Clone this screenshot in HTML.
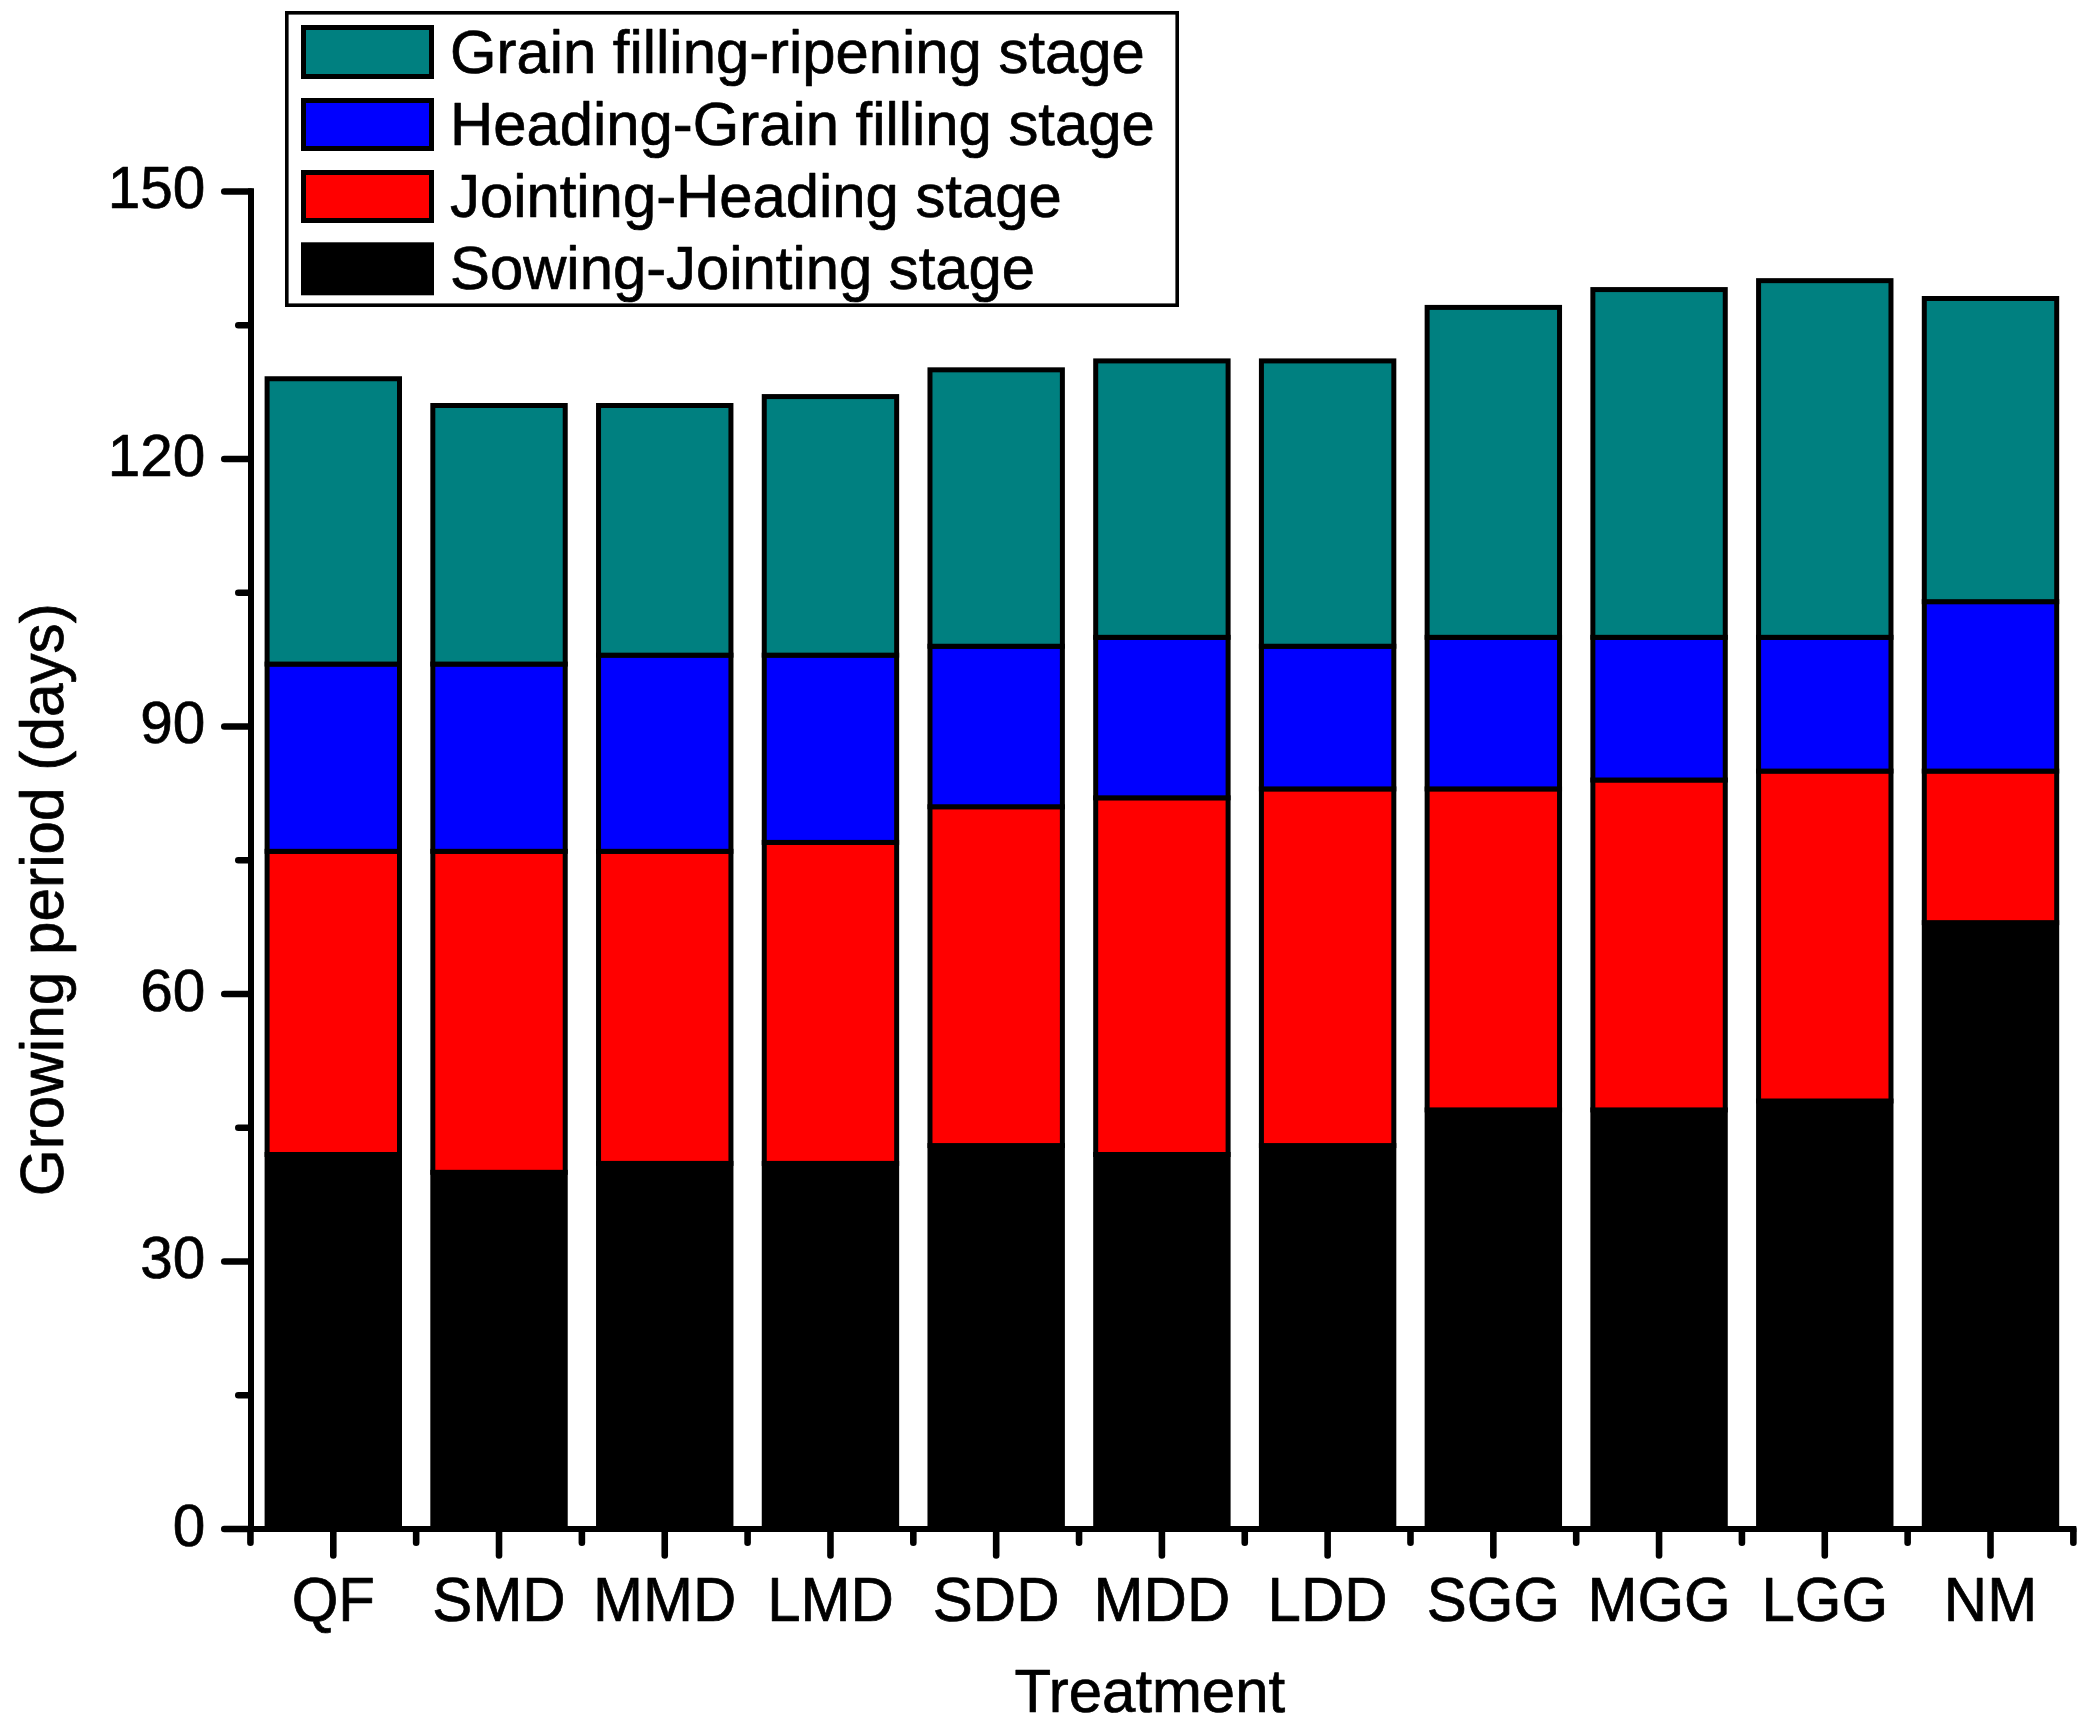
<!DOCTYPE html>
<html lang="en"><head><meta charset="utf-8"><title>Growing period by treatment</title>
<style>html,body{margin:0;padding:0;background:#fff}svg{display:block}text{font-family:"Liberation Sans",Arial,Helvetica,sans-serif;fill:#000;stroke:#000;stroke-width:0.7px;stroke-linejoin:round}</style>
</head><body>
<svg width="2088" height="1731" viewBox="0 0 2088 1731">
<rect x="0" y="0" width="2088" height="1731" fill="#ffffff"/>
<g stroke="#000" stroke-width="5" stroke-linejoin="miter">
<rect x="267.10" y="1154.50" width="132.40" height="374.50" fill="#000000"/>
<rect x="267.10" y="851.33" width="132.40" height="303.17" fill="#ff0000"/>
<rect x="267.10" y="664.08" width="132.40" height="187.25" fill="#0000ff"/>
<rect x="267.10" y="378.75" width="132.40" height="285.33" fill="#008080"/>
<rect x="432.82" y="1172.33" width="132.40" height="356.67" fill="#000000"/>
<rect x="432.82" y="851.33" width="132.40" height="321.00" fill="#ff0000"/>
<rect x="432.82" y="664.08" width="132.40" height="187.25" fill="#0000ff"/>
<rect x="432.82" y="405.50" width="132.40" height="258.58" fill="#008080"/>
<rect x="598.54" y="1163.42" width="132.40" height="365.58" fill="#000000"/>
<rect x="598.54" y="851.33" width="132.40" height="312.08" fill="#ff0000"/>
<rect x="598.54" y="655.16" width="132.40" height="196.17" fill="#0000ff"/>
<rect x="598.54" y="405.50" width="132.40" height="249.67" fill="#008080"/>
<rect x="764.26" y="1163.42" width="132.40" height="365.58" fill="#000000"/>
<rect x="764.26" y="842.41" width="132.40" height="321.00" fill="#ff0000"/>
<rect x="764.26" y="655.16" width="132.40" height="187.25" fill="#0000ff"/>
<rect x="764.26" y="396.58" width="132.40" height="258.58" fill="#008080"/>
<rect x="929.98" y="1145.58" width="132.40" height="383.42" fill="#000000"/>
<rect x="929.98" y="806.75" width="132.40" height="338.83" fill="#ff0000"/>
<rect x="929.98" y="646.25" width="132.40" height="160.50" fill="#0000ff"/>
<rect x="929.98" y="369.83" width="132.40" height="276.42" fill="#008080"/>
<rect x="1095.70" y="1154.50" width="132.40" height="374.50" fill="#000000"/>
<rect x="1095.70" y="797.83" width="132.40" height="356.67" fill="#ff0000"/>
<rect x="1095.70" y="637.33" width="132.40" height="160.50" fill="#0000ff"/>
<rect x="1095.70" y="360.91" width="132.40" height="276.42" fill="#008080"/>
<rect x="1261.42" y="1145.58" width="132.40" height="383.42" fill="#000000"/>
<rect x="1261.42" y="788.91" width="132.40" height="356.67" fill="#ff0000"/>
<rect x="1261.42" y="646.25" width="132.40" height="142.67" fill="#0000ff"/>
<rect x="1261.42" y="360.91" width="132.40" height="285.33" fill="#008080"/>
<rect x="1427.14" y="1109.92" width="132.40" height="419.08" fill="#000000"/>
<rect x="1427.14" y="788.91" width="132.40" height="321.00" fill="#ff0000"/>
<rect x="1427.14" y="637.33" width="132.40" height="151.58" fill="#0000ff"/>
<rect x="1427.14" y="307.41" width="132.40" height="329.92" fill="#008080"/>
<rect x="1592.86" y="1109.92" width="132.40" height="419.08" fill="#000000"/>
<rect x="1592.86" y="780.00" width="132.40" height="329.92" fill="#ff0000"/>
<rect x="1592.86" y="637.33" width="132.40" height="142.67" fill="#0000ff"/>
<rect x="1592.86" y="289.58" width="132.40" height="347.75" fill="#008080"/>
<rect x="1758.58" y="1101.00" width="132.40" height="428.00" fill="#000000"/>
<rect x="1758.58" y="771.08" width="132.40" height="329.92" fill="#ff0000"/>
<rect x="1758.58" y="637.33" width="132.40" height="133.75" fill="#0000ff"/>
<rect x="1758.58" y="280.66" width="132.40" height="356.67" fill="#008080"/>
<rect x="1924.30" y="922.66" width="132.40" height="606.34" fill="#000000"/>
<rect x="1924.30" y="771.08" width="132.40" height="151.58" fill="#ff0000"/>
<rect x="1924.30" y="601.66" width="132.40" height="169.42" fill="#0000ff"/>
<rect x="1924.30" y="298.50" width="132.40" height="303.17" fill="#008080"/>
</g>
<g stroke="#000" fill="none">
<line x1="251.0" y1="188.24" x2="251.0" y2="1532.00" stroke-width="6"/>
<line x1="224.2" y1="1529.0" x2="2076.3" y2="1529.0" stroke-width="6"/>
<g stroke-width="6.6" stroke-linecap="round">
<line x1="224.3" y1="1529.00" x2="250.6" y2="1529.00"/>
<line x1="238.3" y1="1395.25" x2="250.6" y2="1395.25"/>
<line x1="224.3" y1="1261.50" x2="250.6" y2="1261.50"/>
<line x1="238.3" y1="1127.75" x2="250.6" y2="1127.75"/>
<line x1="224.3" y1="994.00" x2="250.6" y2="994.00"/>
<line x1="238.3" y1="860.25" x2="250.6" y2="860.25"/>
<line x1="224.3" y1="726.50" x2="250.6" y2="726.50"/>
<line x1="238.3" y1="592.75" x2="250.6" y2="592.75"/>
<line x1="224.3" y1="459.00" x2="250.6" y2="459.00"/>
<line x1="238.3" y1="325.25" x2="250.6" y2="325.25"/>
<line x1="224.3" y1="191.49" x2="250.6" y2="191.49"/>
<line x1="333.30" y1="1529.4" x2="333.30" y2="1555.5"/>
<line x1="499.02" y1="1529.4" x2="499.02" y2="1555.5"/>
<line x1="664.74" y1="1529.4" x2="664.74" y2="1555.5"/>
<line x1="830.46" y1="1529.4" x2="830.46" y2="1555.5"/>
<line x1="996.18" y1="1529.4" x2="996.18" y2="1555.5"/>
<line x1="1161.90" y1="1529.4" x2="1161.90" y2="1555.5"/>
<line x1="1327.62" y1="1529.4" x2="1327.62" y2="1555.5"/>
<line x1="1493.34" y1="1529.4" x2="1493.34" y2="1555.5"/>
<line x1="1659.06" y1="1529.4" x2="1659.06" y2="1555.5"/>
<line x1="1824.78" y1="1529.4" x2="1824.78" y2="1555.5"/>
<line x1="1990.50" y1="1529.4" x2="1990.50" y2="1555.5"/>
<line x1="250.44" y1="1529.4" x2="250.44" y2="1542.7"/>
<line x1="416.16" y1="1529.4" x2="416.16" y2="1542.7"/>
<line x1="581.88" y1="1529.4" x2="581.88" y2="1542.7"/>
<line x1="747.60" y1="1529.4" x2="747.60" y2="1542.7"/>
<line x1="913.32" y1="1529.4" x2="913.32" y2="1542.7"/>
<line x1="1079.04" y1="1529.4" x2="1079.04" y2="1542.7"/>
<line x1="1244.76" y1="1529.4" x2="1244.76" y2="1542.7"/>
<line x1="1410.48" y1="1529.4" x2="1410.48" y2="1542.7"/>
<line x1="1576.20" y1="1529.4" x2="1576.20" y2="1542.7"/>
<line x1="1741.92" y1="1529.4" x2="1741.92" y2="1542.7"/>
<line x1="1907.64" y1="1529.4" x2="1907.64" y2="1542.7"/>
<line x1="2073.36" y1="1529.4" x2="2073.36" y2="1542.7"/>
</g></g>
<g font-size="60" text-anchor="end">
<text transform="translate(205.3,1545.50) scale(0.975,1)" x="0" y="0">0</text>
<text transform="translate(205.3,1278.00) scale(0.975,1)" x="0" y="0">30</text>
<text transform="translate(205.3,1010.50) scale(0.975,1)" x="0" y="0">60</text>
<text transform="translate(205.3,743.00) scale(0.975,1)" x="0" y="0">90</text>
<text transform="translate(205.3,475.50) scale(0.975,1)" x="0" y="0">120</text>
<text transform="translate(205.3,207.99) scale(0.975,1)" x="0" y="0">150</text>
</g>
<g font-size="60" text-anchor="middle">
<text transform="translate(333.30,1621) scale(1,1.04)" x="0" y="0">QF</text>
<text transform="translate(499.02,1621) scale(1,1.04)" x="0" y="0">SMD</text>
<text transform="translate(664.74,1621) scale(1,1.04)" x="0" y="0">MMD</text>
<text transform="translate(830.46,1621) scale(1,1.04)" x="0" y="0">LMD</text>
<text transform="translate(996.18,1621) scale(1,1.04)" x="0" y="0">SDD</text>
<text transform="translate(1161.90,1621) scale(1,1.04)" x="0" y="0">MDD</text>
<text transform="translate(1327.62,1621) scale(1,1.04)" x="0" y="0">LDD</text>
<text transform="translate(1493.34,1621) scale(1,1.04)" x="0" y="0">SGG</text>
<text transform="translate(1659.06,1621) scale(1,1.04)" x="0" y="0">MGG</text>
<text transform="translate(1824.78,1621) scale(1,1.04)" x="0" y="0">LGG</text>
<text transform="translate(1990.50,1621) scale(1,1.04)" x="0" y="0">NM</text>
<text transform="translate(1149.8,1712) scale(0.998,1.03)" x="0" y="0">Treatment</text>
<text transform="translate(63,899.7) rotate(-90) scale(1.005,1.025)" x="0" y="0">Growing period (days)</text>
</g>
<rect x="286.8" y="12.8" width="890.4" height="292.4" fill="#fff" stroke="#000" stroke-width="3.6"/>
<g font-size="60">
<rect x="303.5" y="27.5" width="128" height="49" fill="#008080" stroke="#000" stroke-width="5"/>
<text transform="translate(450,72.6) scale(0.997,1.02)" x="0" y="0">Grain filling-ripening stage</text>
<rect x="303.5" y="100.5" width="128" height="48" fill="#0000ff" stroke="#000" stroke-width="5"/>
<text transform="translate(450,144.9) scale(0.997,1.02)" x="0" y="0">Heading-Grain filling stage</text>
<rect x="303.5" y="172.5" width="128" height="48" fill="#ff0000" stroke="#000" stroke-width="5"/>
<text transform="translate(450,216.8) scale(0.997,1.02)" x="0" y="0">Jointing-Heading stage</text>
<rect x="303.5" y="244.8" width="128" height="48" fill="#000000" stroke="#000" stroke-width="5"/>
<text transform="translate(450,288.7) scale(0.997,1.02)" x="0" y="0">Sowing-Jointing stage</text>
</g>
</svg></body></html>
